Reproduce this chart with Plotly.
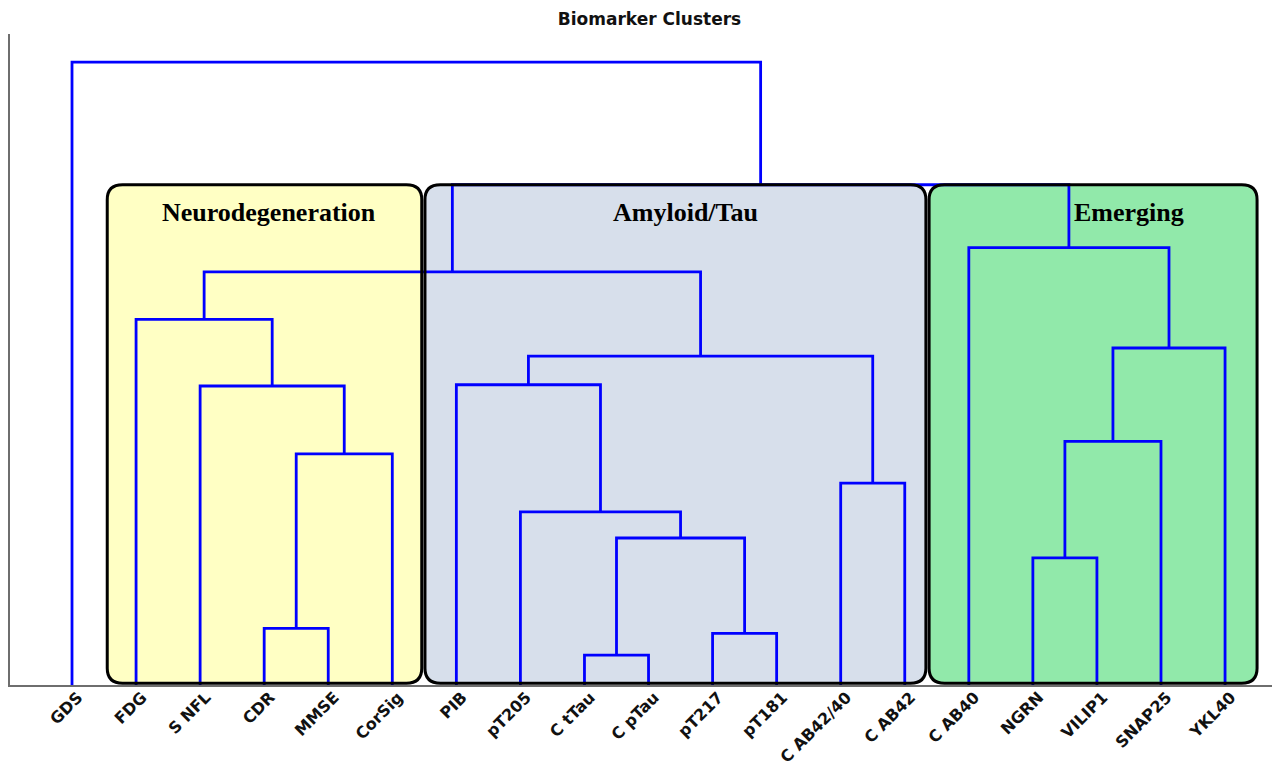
import plotly.graph_objects as go

# Leaf labels in dendrogram order
leaves = ["GDS", "FDG", "S NFL", "CDR", "MMSE", "CorSig", "PIB", "pT205",
          "C tTau", "C pTau", "pT217", "pT181", "C AB42/40", "C AB42",
          "C AB40", "NGRN", "VILIP1", "SNAP25", "YKL40"]

# Linkage: leaf i has id i, merge k creates node id len(leaves) + k
link_left = [8, 10, 3, 15, 19, 7, 12, 21, 22, 2, 6, 29, 27, 1, 32, 14, 33, 0]
link_right = [9, 11, 4, 16, 20, 23, 13, 5, 17, 26, 24, 25, 18, 28, 30, 31, 34, 35]
link_height = [0.048, 0.083, 0.091, 0.204, 0.236, 0.278, 0.324, 0.371, 0.391,
               0.480, 0.482, 0.528, 0.541, 0.587, 0.663, 0.702, 0.803, 1.000]

# Cluster annotations
cluster_names = ["Neurodegeneration", "Amyloid/Tau", "Emerging"]
cluster_fill = ["#FFFFC4", "#D7DFEB", "#91E9AA"]

# Node coordinates (leaf spacing 10, like scipy's dendrogram)
node_x = {i: 5 + 10 * i for i in range(len(leaves))}
node_h = {i: 0.0 for i in range(len(leaves))}
xs, ys = [], []
for k, (a, b, h) in enumerate(zip(link_left, link_right, link_height)):
    nid = len(leaves) + k
    xa, xb = node_x[a], node_x[b]
    xs += [xa, xa, xb, xb, None]
    ys += [node_h[a], h, h, node_h[b], None]
    node_x[nid] = (xa + xb) / 2
    node_h[nid] = h

fig = go.Figure()
fig.add_trace(go.Scatter(
    x=xs, y=ys, mode="lines",
    line=dict(color="#0000FF", width=2.8),
    hoverinfo="skip", showlegend=False,
))

# Rounded cluster boxes: fill below the links, outline above them
box_x0 = [10.5, 60.1, 138.8]
box_x1 = [59.6, 138.3, 190.0]
box_bottom, box_top = 0.003, link_height[-2]
rx, ry = 2.4, 0.024


def rounded(x0, x1, y0, y1):
    return (f"M {x0 + rx},{y1} L {x1 - rx},{y1} Q {x1},{y1} {x1},{y1 - ry} "
            f"L {x1},{y0 + ry} Q {x1},{y0} {x1 - rx},{y0} "
            f"L {x0 + rx},{y0} Q {x0},{y0} {x0},{y0 + ry} "
            f"L {x0},{y1 - ry} Q {x0},{y1} {x0 + rx},{y1} Z")


label_x = [35.7, 100.8, 170.0]
label_y = 0.759
for x0, x1, fill, name, lx in zip(box_x0, box_x1, cluster_fill, cluster_names, label_x):
    p = rounded(x0, x1, box_bottom, box_top)
    fig.add_shape(type="path", path=p, xref="x", yref="y", layer="below",
                  fillcolor=fill, line=dict(width=0))
    fig.add_shape(type="path", path=p, xref="x", yref="y", layer="above",
                  fillcolor="rgba(0,0,0,0)", line=dict(color="#000000", width=3))
    fig.add_annotation(x=lx, y=label_y, xref="x", yref="y", text=name,
                       showarrow=False, xanchor="center", yanchor="middle",
                       font=dict(family="Liberation Serif", size=26,
                                 color="#000000", weight="bold"))

fig.update_layout(
    width=1272, height=769,
    margin=dict(l=10, r=0, t=34, b=84),
    paper_bgcolor="white", plot_bgcolor="white",
    title=dict(text="Biomarker Clusters", x=0.5106, xanchor="center",
               y=0.975, yanchor="middle",
               font=dict(family="DejaVu Sans", size=17, color="#111111",
                         weight="bold")),
    xaxis=dict(range=[-4.68, 192.33], tickmode="array",
               tickvals=[node_x[i] for i in range(len(leaves))],
               ticktext=leaves, tickangle=-45, ticks="", automargin=False,
               ticklabelshift=6, ticklabelstandoff=-5,
               tickfont=dict(family="DejaVu Sans", size=16, color="#111111",
                             weight="bold"),
               showline=True, linecolor="#6e6e6e", linewidth=1.5,
               showgrid=False, zeroline=False, fixedrange=True),
    yaxis=dict(range=[0, 1.045], showticklabels=False, ticks="",
               automargin=False,
               showline=True, linecolor="#6e6e6e", linewidth=1.5,
               showgrid=False, zeroline=False, fixedrange=True),
)

fig.write_html("out.html")
